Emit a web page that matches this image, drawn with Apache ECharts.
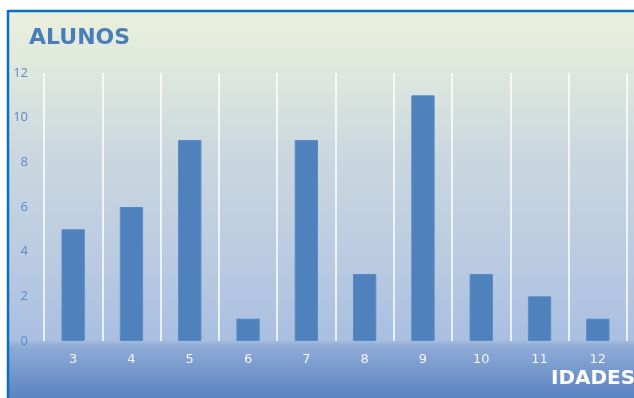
<!DOCTYPE html>
<html>
<head>
<meta charset="utf-8">
<script src="https://cdn.jsdelivr.net/npm/echarts@6/dist/echarts.min.js"></script>
<style>
  html, body { margin: 0; padding: 0; background: #ffffff; }
  #chart { width: 634px; height: 398px; }
</style>
</head>
<body>
<div id="chart"></div>
<script>
// Idades (categorias) e número de alunos por idade
const idades = ['3', '4', '5', '6', '7', '8', '9', '10', '11', '12'];
const alunos = [5, 6, 9, 1, 9, 3, 11, 3, 2, 1];
const yTicks = { min: 0, max: 12, interval: 2 };

const chart = echarts.init(document.getElementById('chart'), null, { renderer: 'canvas' });

chart.setOption({
  backgroundColor: '#ffffff',
  animation: false,
  graphic: [
    {
      // fundo do gráfico em degradê
      type: 'rect',
      z: -10,
      silent: true,
      shape: { x: 8, y: 11, width: 640, height: 387 },
      style: {
        fill: new echarts.graphic.LinearGradient(0, 0, 0, 1, [
          { offset: 0, color: '#eaf0dc' },
          { offset: 0.16, color: '#dfe7dd' },
          { offset: 0.36, color: '#cbd8df' },
          { offset: 0.62, color: '#bccce1' },
          { offset: 0.85, color: '#a9bfe1' },
          { offset: 0.865, color: '#90acd7' },
          { offset: 1, color: '#5a83c1' }
        ])
      }
    },
    {
      type: 'line', z: -5, silent: true,
      shape: { x1: 8, y1: 11, x2: 640, y2: 11 },
      style: { stroke: '#0a6fc2', lineWidth: 2.5 }
    },
    {
      type: 'line', z: -5, silent: true,
      shape: { x1: 8, y1: 10, x2: 8, y2: 400 },
      style: { stroke: '#0a6fc2', lineWidth: 2.5 }
    },
    {
      type: 'text', left: 29, top: 27,
      style: {
        text: 'ALUNOS',
        font: 'bold 22px "DejaVu Sans", sans-serif',
        fill: '#4a7ebb'
      }
    },
    {
      type: 'text', left: 551, top: 369,
      style: {
        text: 'IDADES',
        font: 'bold 20px "DejaVu Sans", sans-serif',
        fill: '#ffffff'
      }
    }
  ],
  grid: { left: 44, right: 7, top: 73, bottom: 57, containLabel: false },
  xAxis: {
    type: 'category',
    data: idades,
    axisLine: { show: false },
    axisTick: { show: false },
    axisLabel: {
      color: '#f2f4f8',
      fontSize: 13,
      fontFamily: 'DejaVu Sans, sans-serif',
      margin: 12
    },
    splitLine: {
      show: true,
      interval: 0,
      lineStyle: { color: '#ffffff', width: 1.5 }
    }
  },
  yAxis: {
    type: 'value',
    min: yTicks.min,
    max: yTicks.max,
    interval: yTicks.interval,
    axisLine: { show: false },
    axisTick: { show: false },
    splitLine: { show: false },
    axisLabel: {
      color: '#5b8ac6',
      fontSize: 13,
      fontFamily: 'Open Sans, sans-serif',
      margin: 16
    }
  },
  series: [{
    type: 'bar',
    data: alunos,
    barCategoryGap: '60%',
    itemStyle: { color: '#4f81bd', borderColor: '#5a8ac6', borderWidth: 1 }
  }]
});
</script>
</body>
</html>
